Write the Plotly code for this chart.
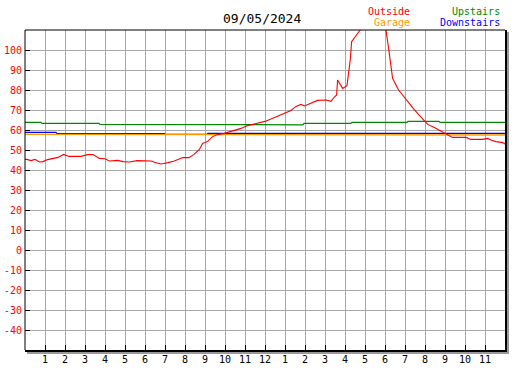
import plotly.graph_objects as go

# ---- data ----
outside_h = [0, 0.1, 0.3, 0.5, 0.72, 0.9, 1.13, 1.4, 1.65, 1.93, 2.2, 2.47, 2.8, 3.13, 3.4,
             3.72, 4.0, 4.22, 4.63, 4.9, 5.22, 5.6, 5.97, 6.3, 6.6, 6.8, 7.15, 7.47, 7.88,
             8.2, 8.45, 8.72, 8.88, 9.13, 9.38, 9.63, 9.97, 10.3, 10.8, 11.13, 11.63, 12.0,
             12.3, 12.47, 12.8, 13.3, 13.55, 13.8, 13.97, 14.3, 14.63, 15.05, 15.3, 15.47,
             15.58, 15.63, 15.88, 16.1, 16.17, 16.27, 16.33, 16.55, 16.72, 16.85, 17.0, 17.3,
             17.6, 17.9, 18.05, 18.18, 18.3, 18.38, 18.55, 18.68, 18.88, 19.13, 19.38, 19.63,
             19.88, 20.13, 20.47, 20.8, 21.05, 21.38, 22.05, 22.3, 22.88, 23.13, 23.3, 23.55,
             23.88, 24.0]
outside_v = [45.3, 45.3, 44.7, 45.3, 44.0, 44.2, 45.2, 45.6, 46.3, 47.8, 46.8, 46.8, 46.8, 47.7,
             47.7, 45.8, 45.6, 44.5, 44.8, 44.2, 44.0, 44.7, 44.7, 44.5, 43.5, 43.0, 43.7, 44.5,
             46.2, 46.2, 47.8, 50.3, 53.3, 54.3, 56.7, 57.7, 58.3, 59.2, 60.8, 62.2, 63.3, 64.3,
             65.5, 66.3, 67.8, 69.8, 71.8, 72.8, 72.0, 73.3, 74.8, 75.0, 74.3, 76.5, 77.5, 85.0,
             80.8, 82.2, 87.5, 95.8, 104.2, 107.5, 109.5, 111.0, 115.0, 120.0, 122.0, 118.0,
             110.0, 100.8, 90.8, 85.8, 82.5, 80.0, 77.5, 74.2, 71.2, 68.3, 65.5, 62.8, 61.2,
             59.5, 58.3, 56.3, 56.3, 55.3, 55.3, 55.8, 55.0, 54.2, 53.7, 53.0]

upstairs_h = [0, 0.8, 0.85, 3.7, 3.75, 5.6, 5.65, 13.9, 13.95, 16.3, 16.35, 19.1, 19.15,
              20.7, 20.75, 24]
upstairs_v = [63.8, 63.8, 63.3, 63.3, 62.8, 62.8, 62.6, 62.6, 63.3, 63.3, 63.8, 63.8, 64.3,
              64.3, 63.8, 63.8]

downstairs_h = [0, 1.55, 1.6, 6.97, 7.0, 9.1, 9.15, 24]
downstairs_v = [58.8, 58.8, 58.2, 58.2, 57.8, 57.8, 58.3, 58.3]

garage_h = [0, 4.9, 4.95, 24]
garage_v = [57.8, 57.8, 57.5, 57.5]

hour_ticks = list(range(1, 24))
hour_labels = [str(h if h <= 12 else h - 12) for h in hour_ticks]
y_ticks = list(range(-40, 101, 10))

title_text = "09/05/2024"

FONT = "DejaVu Sans Mono"

fig = go.Figure()
fig.add_trace(go.Scatter(x=upstairs_h, y=upstairs_v, mode="lines",
                         line=dict(color="#008800", width=1.2), name="Upstairs"))
fig.add_trace(go.Scatter(x=downstairs_h, y=downstairs_v, mode="lines",
                         line=dict(color="#0000ff", width=1.3), name="Downstairs"))
fig.add_trace(go.Scatter(x=garage_h, y=garage_v, mode="lines",
                         line=dict(color="#ff9900", width=1.3), name="Garage"))
fig.add_trace(go.Scatter(x=outside_h, y=outside_v, mode="lines",
                         line=dict(color="#ff0000", width=1.1), name="Outside"))

W, H = 527, 370
ml, mt = 25, 30
pw, ph = 480, 320
mr = W - ml - pw
mb = H - mt - ph
px = 1.0 / pw
py = 1.0 / ph

shapes = [
    # gray shadow
    dict(type="line", xref="paper", yref="paper", x0=1 + 3 * px, x1=1 + 3 * px,
         y0=-3 * py, y1=1 - 2 * py, line=dict(color="#999999", width=2)),
    dict(type="line", xref="paper", yref="paper", x0=2 * px, x1=1 + 4 * px,
         y0=-3 * py, y1=-3 * py, line=dict(color="#999999", width=2)),
    # black frame
    dict(type="line", xref="paper", yref="paper", x0=0, x1=0, y0=0, y1=1,
         line=dict(color="black", width=1)),
    dict(type="line", xref="paper", yref="paper", x0=0, x1=1, y0=1, y1=1,
         line=dict(color="black", width=1)),
    dict(type="line", xref="paper", yref="paper", x0=1 + 1 * px, x1=1 + 1 * px, y0=-1 * py, y1=1,
         line=dict(color="black", width=2)),
    dict(type="line", xref="paper", yref="paper", x0=0, x1=1 + 2 * px, y0=-1 * py, y1=-1 * py,
         line=dict(color="black", width=2)),
]

def pxx(x):
    return (x - ml) / pw

def pyy(y):
    return (mt + ph - y) / ph

annotations = [
    dict(text=title_text, x=pxx(262), y=pyy(19), xref="paper", yref="paper",
         xanchor="center", yanchor="middle", showarrow=False,
         font=dict(family=FONT, size=13, color="black", weight="normal")),
    dict(text="Outside", x=pxx(412), y=pyy(11), xref="paper", yref="paper",
         xanchor="right", yanchor="middle", showarrow=False,
         font=dict(family=FONT, size=10, color="#ff0000")),
    dict(text="Garage", x=pxx(412), y=pyy(23), xref="paper", yref="paper",
         xanchor="right", yanchor="middle", showarrow=False,
         font=dict(family=FONT, size=10, color="#ff9900")),
    dict(text="Upstairs", x=pxx(502), y=pyy(11), xref="paper", yref="paper",
         xanchor="right", yanchor="middle", showarrow=False,
         font=dict(family=FONT, size=10, color="#008800")),
    dict(text="Downstairs", x=pxx(502), y=pyy(23), xref="paper", yref="paper",
         xanchor="right", yanchor="middle", showarrow=False,
         font=dict(family=FONT, size=10, color="#0000ff")),
]

fig.update_layout(
    width=W, height=H, autosize=False,
    margin=dict(l=ml, r=mr, t=mt, b=mb, pad=0, autoexpand=False),
    paper_bgcolor="white", plot_bgcolor="white",
    showlegend=False,
    hovermode=False,
    shapes=shapes,
    annotations=annotations,
    xaxis=dict(range=[0, 24], tickmode="array", tickvals=hour_ticks, ticktext=hour_labels,
               showgrid=True, gridcolor="#a8a8a8", gridwidth=1, zeroline=False,
               showline=False, ticks="inside", ticklen=5, tickcolor="black", tickwidth=1,
               automargin=False, ticklabelstandoff=2,
               tickfont=dict(family=FONT, size=10, color="black"), fixedrange=True),
    yaxis=dict(range=[-50, 110], tickmode="array", tickvals=y_ticks,
               ticktext=[str(v) for v in y_ticks],
               showgrid=True, gridcolor="#a8a8a8", gridwidth=1, zeroline=False,
               showline=False, ticks="inside", ticklen=5, tickcolor="black", tickwidth=1,
               automargin=False, ticklabelstandoff=2,
               tickfont=dict(family=FONT, size=10, color="#ff0000"), fixedrange=True),
)

fig.write_html("out.html",
               config={"displayModeBar": False, "staticPlot": True},
               post_script="document.body.style.margin='0';document.body.style.overflow='hidden';")
